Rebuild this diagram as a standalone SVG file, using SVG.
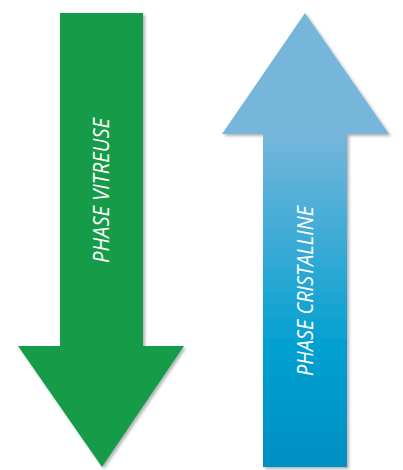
<svg xmlns="http://www.w3.org/2000/svg" width="403" height="470" viewBox="0 0 403 470">
<defs>
<linearGradient id="blueShaft" x1="0" y1="134" x2="0" y2="467" gradientUnits="userSpaceOnUse">
<stop offset="0" stop-color="#76b6db"/>
<stop offset="0.65" stop-color="#00a0d0"/>
<stop offset="1" stop-color="#008fc3"/>
</linearGradient>
<filter id="shadow" x="-10%" y="-10%" width="125%" height="125%">
<feDropShadow dx="2" dy="2" stdDeviation="1.5" flood-color="#000" flood-opacity="0.3"/>
</filter>
</defs>
<style>
.lbl { font-family: "Open Sans", "Noto Sans", sans-serif; font-style: italic; font-weight: 400; font-size: 21px; fill: #ffffff; }
</style>
<rect width="403" height="470" fill="#ffffff"/>
<g id="phase-vitreuse">
<polygon points="60,13 143,13 143,346 184,346 102,467 18,346 60,346" fill="#179b4a" filter="url(#shadow)"/>
<text class="lbl" transform="translate(109,263) rotate(-90)" textLength="145" lengthAdjust="spacingAndGlyphs">PHASE VITREUSE</text>
</g>
<g id="phase-cristalline">
<g filter="url(#shadow)">
<polygon points="305,13 389,134 222,134" fill="#76b6db"/>
<rect x="263" y="134" width="84" height="333" fill="url(#blueShaft)"/>
</g>
<text class="lbl" transform="translate(313,376) rotate(-90)" textLength="170" lengthAdjust="spacingAndGlyphs">PHASE CRISTALLINE</text>
</g>
<g id="connectors"/>
</svg>
